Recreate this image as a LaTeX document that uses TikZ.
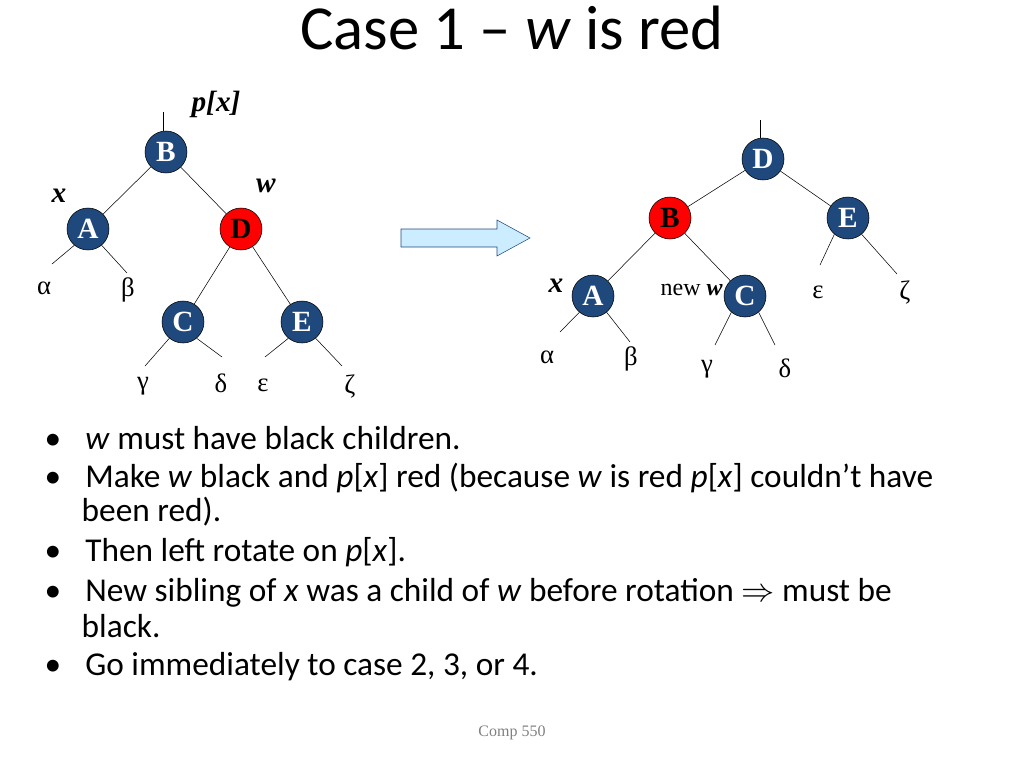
\documentclass[tikz,border=0pt]{standalone}
\usepackage{fontspec}
\setmainfont{Carlito}
\newfontfamily\tms{Liberation Serif}
\definecolor{nodeblue}{RGB}{31,73,125}
\definecolor{arrowfill}{RGB}{204,236,255}
\tikzset{
  rbnode/.style={circle, draw=black, fill=nodeblue, text=white, minimum size=31.5pt, inner sep=0pt, font=\tms\fontsize{22}{22}\selectfont\bfseries},
  rednode/.style={rbnode, fill=red, text=black},
  greek/.style={font=\tms\fontsize{20}{20}\selectfont},
  lbl/.style={font=\tms\fontsize{22}{22}\selectfont\bfseries\itshape},
  bul/.style={anchor=west, font=\fontsize{25}{30}\selectfont},
}
\begin{document}
\begin{tikzpicture}[x=0.75pt,y=-0.75pt]
    \useasboundingbox (0,0) rectangle (1024,768);
    \node at (512,28) {\fontsize{47}{47}\selectfont Case 1 -- \textit{w} is red};

    % left tree
    \node[rbnode] (lB) at (166,152) {B};
    \node[rbnode] (lA) at (88,229) {A};
    \node[rednode] (lD) at (241,229) {D};
    \node[rbnode] (lC) at (183,322) {C};
    \node[rbnode] (lE) at (302,322) {E};
    \draw (lB) -- (lA); \draw (lB) -- (lD);
    \draw (lD) -- (lC); \draw (lD) -- (lE);
    \coordinate (lroot) at (163,112);
    \draw (lroot) -- (lroot |- lB.north);
    \draw (lA.-130) -- (52,264);
    \draw (lA.-50) -- (127,273);
    \draw (lC.-130) -- (145,366);
    \draw (lC.-50) -- (222,357);
    \draw (lE.-130) -- (265,357);
    \draw (lE.-50) -- (342,366);
    \node[greek] (la) at (44,288) {α};
    \node[greek] (lb) at (128,290) {β};
    \node[greek] (lg) at (143,386) {γ};
    \node[greek] (ld) at (221,383) {δ};
    \node[greek] (le) at (263,385) {ε};
    \node[greek] (lz) at (350,386) {ζ};
    \node[lbl] (px) at (216,104) {p[x]};
    \node[lbl] (lx) at (59,196) {x};
    \node[lbl] (lw) at (266,186) {w};

    % arrow
    \draw[nodeblue, fill=arrowfill] (401,229) -- (497,229) -- (497,220) -- (530,238)
        -- (497,256) -- (497,247) -- (401,247) -- cycle;

    % right tree
    \node[rbnode] (rD) at (763,159) {D};
    \node[rednode] (rB) at (670,218) {B};
    \node[rbnode] (rE) at (848,218) {E};
    \node[rbnode] (rA) at (593,296) {A};
    \node[rbnode] (rC) at (745,296) {C};
    \draw (rD) -- (rB); \draw (rD) -- (rE);
    \draw (rB) -- (rA); \draw (rB) -- (rC);
    \coordinate (rroot) at (760,120);
    \draw (rroot) -- (rroot |- rD.north);
    \draw (rE.-130) -- (820,265);
    \draw (rE.-50) -- (897,274);
    \draw (rA.-130) -- (560,332);
    \draw (rA.-50) -- (630,342);
    \draw (rC.-130) -- (715,345);
    \draw (rC.-50) -- (775,345);
    \node[greek] (re) at (818,292) {ε};
    \node[greek] (rz) at (905,292) {ζ};
    \node[greek] (ra) at (547,357) {α};
    \node[greek] (rb) at (631,359) {β};
    \node[greek] (rg) at (707,369) {γ};
    \node[greek] (rd) at (785,368) {δ};
    \node[lbl] (rx) at (556,286) {x};
    \node[anchor=east, font=\tms\fontsize{18}{18}\selectfont, inner sep=0pt] (nw) at (723,290) {new \textbf{\textit{w}}};

    % bullets
    \foreach \y/\t in {438/{\textit{w} must have black children.},
                       478/{Make \textit{w} black and \textit{p}[\textit{x}] red (because \textit{w} is red \textit{p}[\textit{x}] couldn’t have},
                       552/{Then left rotate on \textit{p}[\textit{x}].},
                       593/{New sibling of \textit{x} was a child of \textit{w} before rotation $\Rightarrow$ must be},
                       667/{Go immediately to case 2, 3, or 4.}}
      \node[bul] at (40,\y) {•\hspace{18pt}\t};
    \node[bul] at (77,512) {been red).};
    \node[bul] at (77,626) {black.};

    \node[font=\tms\fontsize{12}{12}\selectfont, text=gray] (foot) at (512,733) {Comp 550};
\end{tikzpicture}
\end{document}
